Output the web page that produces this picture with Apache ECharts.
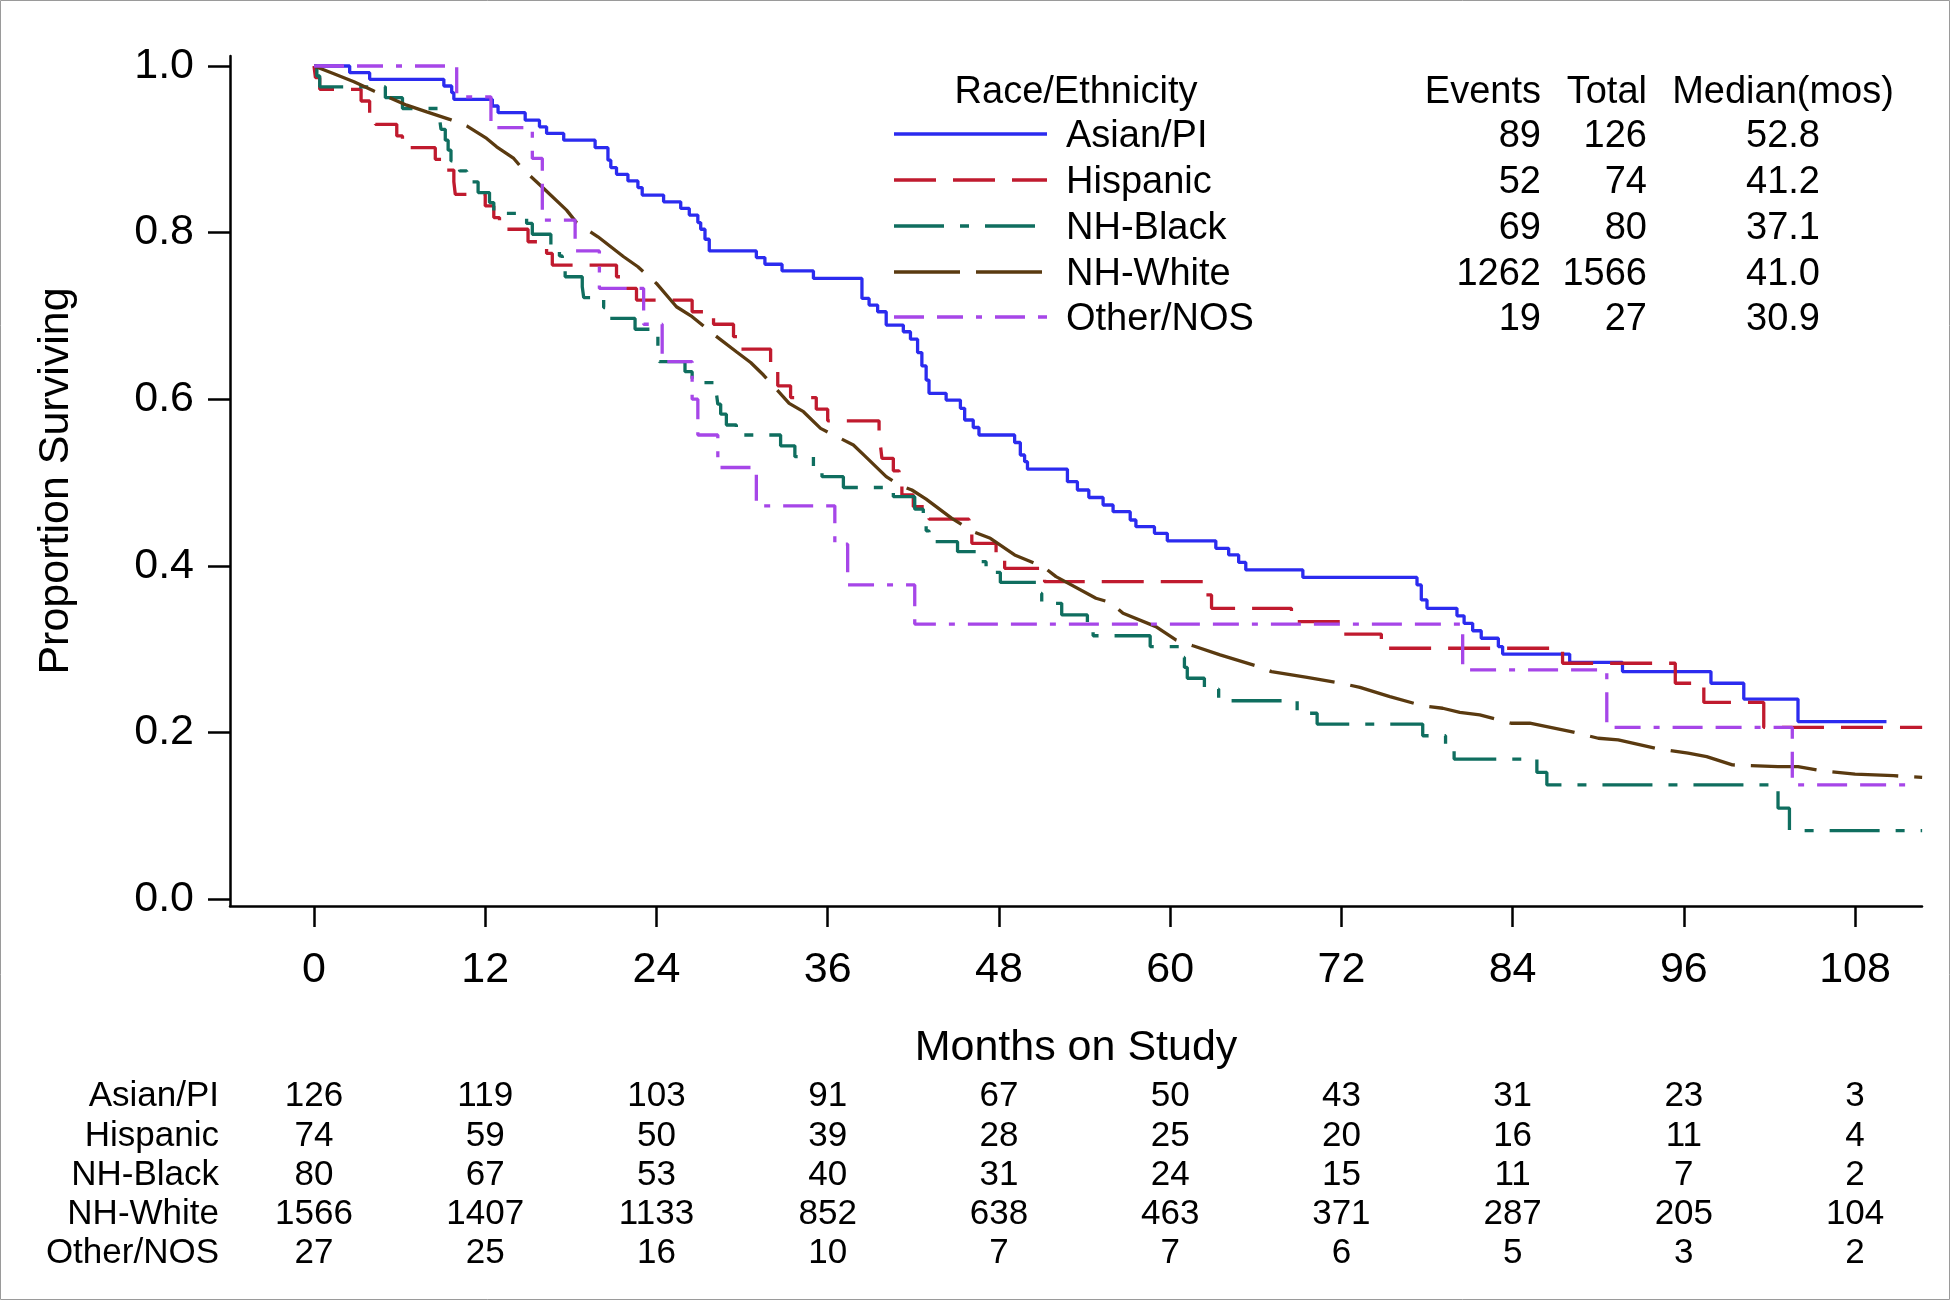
<!DOCTYPE html>
<html><head><meta charset="utf-8">
<script src="https://cdn.jsdelivr.net/npm/echarts@6/dist/echarts.min.js"></script>
<style>html,body{margin:0;padding:0;background:#fff}#c{width:1951px;height:1301px}</style>
</head><body><div id="c"></div>
<script>
// ---------------- DATA ----------------
const groups = ['Asian/PI', 'Hispanic', 'NH-Black', 'NH-White', 'Other/NOS'];

// Kaplan-Meier survival: [month, proportion surviving from that month on]
const asianPI = [[0,1.0],[2.5,0.992],[3.9,0.984],[9.1,0.976],[9.65,0.968],[9.8,0.960],[12.5,0.952],[12.9,0.944],[14.8,0.935],[15.8,0.927],[16.3,0.919],[17.5,0.911],[19.7,0.902],[20.6,0.887],[20.8,0.878],[21.2,0.870],[22.0,0.862],[22.7,0.854],[23.0,0.845],[24.5,0.837],[25.7,0.829],[26.3,0.821],[26.9,0.812],[27.1,0.804],[27.4,0.792],[27.7,0.778],[31.0,0.770],[31.6,0.762],[32.8,0.754],[35.0,0.745],[38.4,0.721],[38.9,0.713],[39.5,0.705],[40.1,0.689],[41.3,0.681],[41.8,0.672],[42.3,0.656],[42.6,0.640],[42.9,0.623],[43.1,0.607],[44.3,0.599],[45.3,0.589],[45.6,0.575],[46.2,0.566],[46.6,0.557],[49.1,0.548],[49.5,0.533],[49.8,0.525],[50.0,0.516],[52.8,0.501],[53.5,0.491],[54.3,0.482],[55.3,0.473],[56.0,0.465],[57.2,0.455],[57.6,0.447],[58.9,0.439],[59.8,0.430],[63.2,0.421],[64.1,0.413],[64.8,0.404],[65.3,0.395],[69.3,0.386],[77.3,0.377],[77.6,0.359],[78.0,0.349],[80.1,0.340],[80.6,0.331],[81.2,0.322],[81.8,0.313],[83.0,0.303],[83.3,0.294],[88.0,0.284],[91.7,0.273],[97.9,0.259],[100.2,0.240],[104.0,0.213],[110.2,0.213]];
const hispanic = [[0,1.0],[0.1,0.986],[0.4,0.972],[3.3,0.958],[3.9,0.943],[4.3,0.930],[5.8,0.916],[6.2,0.902],[8.5,0.888],[9.1,0.875],[9.8,0.861],[9.9,0.846],[12.0,0.832],[12.6,0.818],[13.0,0.804],[15.0,0.789],[16.3,0.775],[16.7,0.761],[21.2,0.747],[21.9,0.733],[22.6,0.719],[26.5,0.705],[28.0,0.690],[29.4,0.675],[29.7,0.660],[32.0,0.638],[32.5,0.616],[33.4,0.602],[35.2,0.588],[36.0,0.574],[39.6,0.559],[39.7,0.544],[39.8,0.529],[40.6,0.514],[41.0,0.500],[41.2,0.485],[42.0,0.471],[43.1,0.456],[45.9,0.441],[46.1,0.427],[47.8,0.411],[48.4,0.397],[51.2,0.381],[62.4,0.365],[62.9,0.349],[68.5,0.333],[71.9,0.318],[74.8,0.301],[87.5,0.283],[95.4,0.259],[97.4,0.236],[101.6,0.206],[112.7,0.206]];
const nhBlack = [[0,1.0],[0.2,0.988],[0.4,0.975],[5.0,0.962],[6.2,0.949],[8.8,0.937],[8.9,0.924],[9.2,0.911],[9.4,0.899],[9.6,0.886],[10.2,0.874],[10.7,0.861],[11.5,0.848],[12.3,0.836],[12.6,0.823],[14.9,0.811],[15.3,0.798],[16.6,0.785],[17.2,0.772],[17.4,0.760],[17.6,0.747],[18.8,0.735],[18.9,0.722],[20.3,0.710],[20.7,0.697],[22.5,0.684],[24.1,0.658],[24.2,0.645],[26.0,0.633],[26.5,0.620],[28.2,0.607],[28.3,0.594],[28.5,0.582],[28.9,0.569],[29.6,0.557],[32.7,0.544],[33.7,0.531],[35.0,0.519],[35.6,0.507],[37.1,0.494],[40.6,0.483],[42.1,0.468],[42.7,0.455],[42.9,0.442],[43.1,0.429],[45.1,0.417],[46.4,0.405],[47.1,0.392],[48.1,0.380],[50.8,0.367],[51.0,0.355],[52.4,0.341],[54.2,0.329],[54.6,0.316],[58.6,0.303],[60.8,0.290],[61.0,0.278],[61.2,0.265],[62.4,0.252],[63.4,0.238],[68.9,0.223],[70.3,0.210],[77.7,0.196],[79.3,0.181],[79.9,0.168],[85.7,0.152],[86.4,0.137],[102.6,0.109],[103.4,0.082],[112.7,0.082]];
const nhWhite = [[0,1.0],[1.35,0.991],[2.8,0.981],[4.2,0.970],[5.3,0.962],[6.5,0.953],[7.9,0.945],[9.5,0.936],[10.7,0.928],[12.1,0.913],[12.8,0.903],[14.0,0.889],[14.7,0.875],[16.1,0.853],[17.7,0.827],[18.4,0.812],[19.9,0.795],[21.7,0.771],[22.7,0.759],[24.0,0.739],[25.4,0.711],[26.5,0.699],[28.0,0.678],[29.6,0.657],[30.6,0.644],[31.5,0.629],[33.3,0.595],[34.3,0.585],[35.5,0.565],[37.8,0.545],[38.6,0.532],[40.1,0.507],[41.0,0.497],[41.9,0.491],[42.9,0.480],[44.7,0.457],[46.2,0.441],[47.4,0.433],[49.1,0.413],[51.1,0.399],[52.0,0.387],[54.8,0.361],[55.8,0.356],[56.7,0.343],[59.0,0.327],[60.4,0.311],[61.6,0.304],[63.5,0.293],[66.0,0.280],[67.1,0.273],[69.6,0.266],[72.0,0.259],[73.3,0.254],[75.4,0.243],[77.7,0.232],[79.1,0.229],[80.3,0.224],[81.7,0.221],[83.9,0.211],[85.2,0.211],[88.1,0.201],[90.0,0.193],[91.4,0.191],[94.0,0.181],[96.3,0.175],[97.6,0.171],[99.4,0.161],[102.6,0.159],[104.0,0.159],[105.6,0.154],[108.0,0.150],[110.7,0.148],[112.7,0.146]];
const otherNOS = [[0,1.0],[10.0,0.963],[12.4,0.926],[15.3,0.889],[16.0,0.815],[18.3,0.778],[20.0,0.733],[23.1,0.690],[24.4,0.645],[26.5,0.600],[26.9,0.557],[28.3,0.518],[31.0,0.472],[36.5,0.426],[37.4,0.377],[42.1,0.330],[80.5,0.275],[90.6,0.206],[103.6,0.137],[112.3,0.137]];

const xTicks = [0, 12, 24, 36, 48, 60, 72, 84, 96, 108];
const yTicks = [0.0, 0.2, 0.4, 0.6, 0.8, 1.0];

const events  = [89, 52, 69, 1262, 19];
const totals  = [126, 74, 80, 1566, 27];
const medians = ['52.8', '41.2', '37.1', '41.0', '30.9'];

const riskAsian    = [126, 119, 103, 91, 67, 50, 43, 31, 23, 3];
const riskHispanic = [74, 59, 50, 39, 28, 25, 20, 16, 11, 4];
const riskBlack    = [80, 67, 53, 40, 31, 24, 15, 11, 7, 2];
const riskWhite    = [1566, 1407, 1133, 852, 638, 463, 371, 287, 205, 104];
const riskOther    = [27, 25, 16, 10, 7, 7, 6, 5, 3, 2];

// ---------------- STYLE ----------------
const FONT = "'Liberation Sans', Arial, sans-serif";
const colors = ['#2b2bef', '#c01a2e', '#0f6e5f', '#5a3a10', '#a646e8'];
const dashes = ['solid', [42, 17], [50, 16, 9, 16], [66, 16], [30, 13, 26, 13, 6, 13]];
const seriesData = [asianPI, hispanic, nhBlack, nhWhite, otherNOS];
const riskRows = [riskAsian, riskHispanic, riskBlack, riskWhite, riskOther];

const chart = echarts.init(document.getElementById('c'), null, {renderer: 'canvas'});

const option = {
  animation: false,
  backgroundColor: '#fff',
  grid: {left: 230, top: 56, width: 1692, height: 850, containLabel: false},
  xAxis: {
    type: 'value', min: -5.887, max: 112.69,
    name: 'Months on Study', nameLocation: 'middle', nameGap: 121,
    nameTextStyle: {fontFamily: FONT, fontSize: 43, color: '#000'},
    axisLine: {show: true, onZero: false, lineStyle: {color: '#000', width: 2.5}},
    axisTick: {show: true, customValues: xTicks, length: 21, lineStyle: {color: '#000', width: 2.5}},
    axisLabel: {customValues: xTicks, fontFamily: FONT, fontSize: 43, color: '#000', margin: 43},
    splitLine: {show: false}
  },
  yAxis: {
    type: 'value', min: -0.0084, max: 1.012,
    name: 'Proportion Surviving', nameLocation: 'middle', nameGap: 152, nameRotate: 90,
    nameTextStyle: {fontFamily: FONT, fontSize: 43, color: '#000'},
    axisLine: {show: true, onZero: false, lineStyle: {color: '#000', width: 2.5}},
    axisTick: {show: true, customValues: yTicks, length: 22, lineStyle: {color: '#000', width: 2.5}},
    axisLabel: {customValues: yTicks, fontFamily: FONT, fontSize: 43, color: '#000', margin: 36,
      padding: [5, 0, 0, 0], formatter: v => Number(v).toFixed(1)},
    splitLine: {show: false}
  },
  series: groups.map((g, i) => ({
    name: g, type: 'line', data: seriesData[i],
    step: i === 3 ? false : 'end',
    showSymbol: false, symbol: 'none', smooth: false,
    lineStyle: {color: colors[i], width: 3.3, type: dashes[i], cap: 'butt'},
    z: 2 + i
  }))
};
chart.setOption(option);

// ---------------- GRAPHIC (legend, stats table, risk table) ----------------
const g = [];
const txt = (id, x, y, text, size, align) => g.push({
  type: 'text', id, x, y, silent: true,
  style: {text, fontFamily: FONT, fontSize: size, fill: '#000', align: align || 'left', verticalAlign: 'middle'}
});

// Legend
const rowY = [134, 180, 226, 272, 317];
const TXT_SHIFT = 3;
txt('legTitle', 1076, 90 + TXT_SHIFT, 'Race/Ethnicity', 38, 'center');
groups.forEach((name, i) => {
  g.push({type: 'line', id: 'legLine' + i, silent: true,
    shape: {x1: 894, y1: rowY[i], x2: 1047, y2: rowY[i]},
    style: {stroke: colors[i], lineWidth: 3.3, lineDash: dashes[i] === 'solid' ? null : dashes[i]}});
  txt('legName' + i, 1066, rowY[i] + TXT_SHIFT, name, 38, 'left');
  txt('ev' + i, 1541, rowY[i] + TXT_SHIFT, String(events[i]), 38, 'right');
  txt('tot' + i, 1647, rowY[i] + TXT_SHIFT, String(totals[i]), 38, 'right');
  txt('med' + i, 1783, rowY[i] + TXT_SHIFT, medians[i], 38, 'center');
});
txt('hdrEv', 1541, 90 + TXT_SHIFT, 'Events', 38, 'right');
txt('hdrTot', 1647, 90 + TXT_SHIFT, 'Total', 38, 'right');
txt('hdrMed', 1783, 90 + TXT_SHIFT, 'Median(mos)', 38, 'center');

// Numbers at risk
const riskY = [1096, 1136, 1175, 1214, 1253];
groups.forEach((name, i) => {
  txt('rl' + i, 219, riskY[i], name, 35, 'right');
  riskRows[i].forEach((n, j) => {
    const px = chart.convertToPixel({xAxisIndex: 0}, xTicks[j]);
    txt('r' + i + '_' + j, px, riskY[i], String(n), 35, 'center');
  });
});

// outer frame
g.push({type: 'rect', id: 'frame', silent: true, shape: {x: 0.5, y: 0.5, width: 1949, height: 1299},
  style: {fill: 'none', stroke: '#9a9a9a', lineWidth: 1}});

chart.setOption({graphic: g});
</script>
</body></html>
